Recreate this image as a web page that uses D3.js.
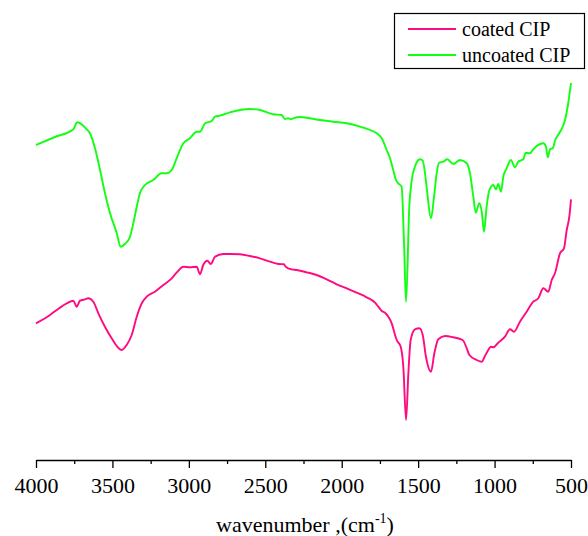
<!DOCTYPE html>
<html>
<head>
<meta charset="utf-8">
<script src="https://cdn.jsdelivr.net/npm/d3@7"></script>
<style>
  html, body { margin: 0; padding: 0; background: #fff; }
  svg text { font-family: 'Liberation Serif', 'Times New Roman', Times, 'Nimbus Roman', 'DejaVu Serif', serif !important; }
</style>
</head>
<body>
<svg id="chart" width="588" height="536"></svg>
<script>
// ---- data (wavenumber cm^-1, transmittance in arbitrary units) ----
const seriesNames = ["coated CIP", "uncoated CIP"];
const seriesColors = ["#ff0a80", "#11ff11"];

const majorTicks = [4000, 3500, 3000, 2500, 2000, 1500, 1000, 500];
const minorTicks = [3750, 3250, 2750, 2250, 1750, 1250, 750];

const uncoatedWavenumber = [4000,3876,3756,3730,3668,3647,3614,3581,3549,3516,3472,3446,3418,3385,3363,3341,3320,3287,3233,3178,3145,3112,3080,3036,2993,2949,2927,2894,2851,2829,2796,2731,2665,2600,2535,2469,2448,2393,2371,2349,2334,2317,2273,2229,2142,2055,1967,1880,1815,1771,1738,1706,1684,1663,1645,1630,1608,1593,1579,1558,1542,1521,1488,1470,1455,1440,1416,1396,1379,1362,1335,1309,1270,1226,1182,1161,1139,1123,1100,1084,1069,1052,1034,1008,991,976,958,943,921,894,866,845,812,796,768,747,703,681,664,652,637,620,603,572,539,520,500];
const uncoatedValues = [31.5,32.3,33.07,33.77,33.07,32.67,31.17,29.0,26.7,24.7,22.7,21.33,21.6,22.33,23.7,25.33,26.67,27.5,28.0,28.67,28.67,29.0,30.17,31.67,32.17,32.83,32.83,33.67,33.9,34.33,34.43,34.77,35.0,35.1,35.0,34.67,34.57,34.5,34.1,34.17,34.07,34.17,34.3,34.23,34.0,33.83,33.67,33.33,33.0,32.67,32.17,31.0,30.17,29.0,28.0,27.67,27.33,22.0,15.8,25.33,28.0,29.33,30.07,29.93,28.67,26.67,24.17,26.33,28.67,29.73,29.83,30.07,29.6,30.0,29.67,28.67,26.33,24.73,25.67,24.83,22.83,25.33,27.0,27.5,27.07,27.6,26.83,28.33,29.17,30.0,29.27,29.83,30.07,30.73,30.67,31.07,31.6,31.67,31.33,30.27,31.07,31.17,32.0,32.8,34.0,35.5,37.7];

const coatedWavenumber = [4000,3908,3865,3799,3756,3734,3712,3679,3658,3625,3592,3549,3505,3468,3439,3407,3374,3341,3308,3276,3222,3167,3112,3080,3036,2993,2949,2927,2906,2879,2857,2829,2775,2731,2665,2600,2535,2469,2415,2378,2367,2349,2327,2295,2229,2164,2098,2033,1967,1902,1837,1782,1761,1738,1717,1695,1673,1651,1640,1614,1597,1579,1564,1549,1521,1492,1470,1449,1416,1394,1368,1324,1270,1209,1182,1165,1117,1084,1063,1041,1025,1008,976,932,899,873,834,790,747,714,681,649,626,605,572,546,528,511,500];
const coatedValues = [13.67,14.5,15.0,15.67,15.93,15.33,15.93,16.07,16.17,15.83,14.67,13.33,12.17,11.33,11.0,11.5,12.5,14.33,15.67,16.33,16.83,17.5,18.17,18.73,19.33,19.27,19.33,18.57,19.5,19.93,19.6,20.33,20.6,20.6,20.57,20.4,20.17,19.83,19.6,19.57,19.33,19.17,19.07,19.0,18.77,18.5,18.07,17.57,17.17,16.73,16.27,15.73,15.33,14.9,14.73,14.33,13.67,12.5,12.0,11.33,9.33,4.0,8.67,12.0,13.07,13.17,12.5,10.33,8.83,10.67,12.07,12.4,12.27,12.0,11.17,10.5,10.0,9.83,10.4,11.0,11.33,11.27,11.73,12.33,13.07,12.83,13.83,14.83,15.83,16.17,17.17,16.83,18.0,18.67,20.67,21.17,23.0,24.33,26.07];

const xLabel = "wavenumber ,(cm";

// ---- drawing ----
const FONT = "'Liberation Serif', 'Times New Roman', Times, serif";
const svg = d3.select("#chart");
const x = d3.scaleLinear().domain([4000, 500]).range([36, 571]);
const y = d3.scaleLinear().domain([0, 46]).range([460, 0]);

const series = [
  { name: seriesNames[0], color: seriesColors[0], pts: coatedWavenumber.map((w, i) => [w, coatedValues[i]]) },
  { name: seriesNames[1], color: seriesColors[1], pts: uncoatedWavenumber.map((w, i) => [w, uncoatedValues[i]]) }
];

const line = d3.line()
  .x(d => x(d[0]))
  .y(d => y(d[1]))
  .curve(d3.curveMonotoneX);

svg.append("g").selectAll("path")
  .data(series)
  .join("path")
  .attr("fill", "none")
  .attr("stroke", d => d.color)
  .attr("stroke-width", 1.9)
  .attr("stroke-linejoin", "round")
  .attr("d", d => line(d.pts));

// axis
const axisG = svg.append("g").attr("transform", "translate(0,460)");
axisG.call(d3.axisBottom(x).tickValues(majorTicks).tickSize(8).tickSizeOuter(0).tickPadding(9).tickFormat(d3.format("d")));
axisG.attr("font-family", null);
axisG.select(".domain").attr("stroke", "#000").attr("stroke-width", 1.3);
axisG.selectAll(".tick line").attr("stroke", "#000").attr("stroke-width", 1.3);
axisG.selectAll(".tick text").style("font-size", "22px").style("font-family", FONT).attr("fill", "#000");

const minorG = svg.append("g").attr("transform", "translate(0,460)");
minorG.call(d3.axisBottom(x).tickValues(minorTicks).tickSize(4).tickSizeOuter(0).tickFormat(""));
minorG.select(".domain").remove();
minorG.selectAll(".tick line").attr("stroke", "#000").attr("stroke-width", 1.3);

// x label
const lab = svg.append("text")
  .attr("x", 305).attr("y", 532)
  .attr("text-anchor", "middle")
  .style("font-size", "22px").style("font-family", FONT)
  .attr("fill", "#000");
lab.append("tspan").text(xLabel);
lab.append("tspan").style("font-size", "14px").attr("dy", -9).text("-1");
lab.append("tspan").attr("dy", 9).text(")");

// legend
const lg = svg.append("g");
lg.append("rect").attr("x", 394.5).attr("y", 13.5).attr("width", 190).attr("height", 55)
  .attr("fill", "#fff").attr("stroke", "#000").attr("stroke-width", 1.2);
const items = lg.selectAll("g.item").data(series).join("g").attr("class", "item")
  .attr("transform", (d, i) => `translate(0,${29 + i * 26})`);
items.append("line").attr("x1", 408).attr("x2", 456).attr("y1", 0).attr("y2", 0)
  .attr("stroke", d => d.color).attr("stroke-width", 1.9);
items.append("text").attr("x", 462).attr("y", 7)
  .style("font-size", "20px").style("font-family", FONT).attr("fill", "#000")
  .text(d => d.name);
</script>
</body>
</html>
